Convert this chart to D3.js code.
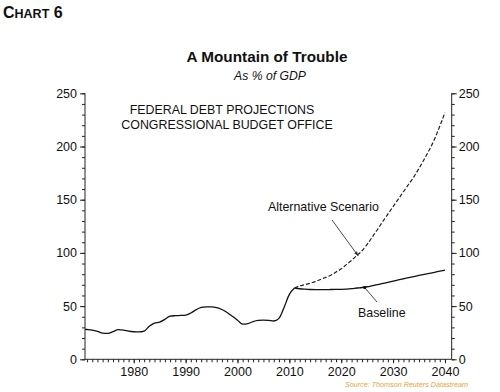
<!DOCTYPE html>
<html><head><meta charset="utf-8">
<script src="https://cdn.jsdelivr.net/npm/d3@7"></script>
<style>
body{margin:0;background:#fff;}
text{font-family:"Liberation Sans",Arial,sans-serif;fill:#111;}
</style></head>
<body><svg id="c" width="500" height="392"></svg>
<script>
const histYears = [1970,1971,1972,1973,1974,1975,1976,1977,1978,1979,1980,1981,1982,1983,1984,1985,1986,1987,1988,1989,1990,1991,1992,1993,1994,1995,1996,1997,1998,1999,2000,2001,2002,2003,2004,2005,2006,2007,2008,2009,2010,2011];
const histValues = [28.3,28,27.5,26.3,24.6,24.3,26,27.8,27.5,26.5,25.9,25.7,26.5,31,34,35,37.5,40.5,41,41.2,41.5,43.5,46.5,48.8,49.3,49.3,48.6,46.8,44,40.5,36.8,33,33.5,35.5,36.6,36.8,36.6,36,38.5,49,61,67];
const projYears = [2011,2012,2013,2014,2015,2016,2017,2018,2019,2020,2021,2022,2023,2024,2025,2026,2027,2028,2029,2030,2031,2032,2033,2034,2035,2036,2037,2038,2039,2040];
const baselineValues = [67,66.3,65.9,65.6,65.5,65.5,65.5,65.6,65.7,65.8,66,66.4,67,67.5,68.2,69.2,70.2,71.3,72.4,73.5,74.6,75.7,76.8,77.8,78.8,79.8,80.8,81.8,82.8,83.8];
const alternativeValues = [67,69,70.2,71.5,73,75,77,79,82,85,89,93,97.5,102,108,115,122,129.5,136.5,143.5,150.5,157.5,164.5,171.5,179.5,188,197,207,219,232];
const yTicks = [0,50,100,150,200,250];
const xTicks = [1980,1990,2000,2010,2020,2030,2040];

const svg = d3.select("#c");
const L = 85, R = 451.7, T = 93.3, B = 359.3;
const x = d3.scaleLinear().domain([1970.6, 2041.3]).range([L, R]);
const y = d3.scaleLinear().domain([0, 250]).range([B, T]);

svg.append("defs").append("clipPath").attr("id","clip").append("rect")
  .attr("x",L).attr("y",T-10).attr("width",R-L).attr("height",B-T+10);

function styleAxis(g){ g.selectAll("path,line").attr("stroke","#222").attr("stroke-width",1); g.selectAll("text").attr("font-size",12.5).attr("fill","#111").style("font-family","Liberation Sans, Arial, sans-serif"); g.select(".domain").remove(); }
const minorY = d3.range(0,251,10);
const gl = svg.append("g").attr("transform",`translate(${L},0)`);
gl.call(d3.axisLeft(y).tickValues(minorY).tickSize(3).tickFormat("")).call(styleAxis);
gl.append("g").call(d3.axisLeft(y).tickValues(yTicks).tickSize(5).tickPadding(3)).call(styleAxis);
gl.append("line").attr("x1",0).attr("x2",0).attr("y1",T).attr("y2",B).attr("stroke","#222");

const gr = svg.append("g").attr("transform",`translate(${R},0)`);
gr.call(d3.axisRight(y).tickValues(minorY).tickSize(3).tickFormat("")).call(styleAxis);
gr.append("g").call(d3.axisRight(y).tickValues(yTicks).tickSize(5).tickPadding(2)).call(styleAxis);
gr.append("line").attr("x1",0).attr("x2",0).attr("y1",T).attr("y2",B).attr("stroke","#222");

const gb = svg.append("g").attr("transform",`translate(0,${B})`);
gb.call(d3.axisBottom(x).tickValues(d3.range(1971,2041,1)).tickSize(3).tickFormat("")).call(styleAxis);
gb.append("g").call(d3.axisBottom(x).tickValues(xTicks).tickSize(4).tickPadding(4).tickFormat(d3.format("d"))).call(styleAxis);
gb.append("line").attr("x1",L).attr("x2",R).attr("y1",0).attr("y2",0).attr("stroke","#222");

const line = d3.line().x(d=>x(d[0])).y(d=>y(d[1])).curve(d3.curveMonotoneX);
const plot = svg.append("g").attr("clip-path","url(#clip)");
plot.append("path").datum(projYears.map((d,i)=>[d,alternativeValues[i]])).attr("d",line)
  .attr("fill","none").attr("stroke","#222").attr("stroke-width",1.2).attr("stroke-dasharray","4,2");
plot.append("path").datum(histYears.map((d,i)=>[d,histValues[i]])).attr("d",line)
  .attr("fill","none").attr("stroke","#111").attr("stroke-width",1.3);
plot.append("path").datum(projYears.map((d,i)=>[d,baselineValues[i]])).attr("d",line)
  .attr("fill","none").attr("stroke","#111").attr("stroke-width",1.3);

const altTip = [x(2023.3), y(97)];
svg.append("line").attr("x1",332).attr("y1",220).attr("x2",altTip[0]).attr("y2",altTip[1])
  .attr("stroke","#333").attr("stroke-width",0.9);
const ang = Math.atan2(altTip[1]-220, altTip[0]-332);
const ah = 5;
svg.append("path").attr("d",`M${altTip[0]},${altTip[1]} L${altTip[0]-ah*Math.cos(ang-0.35)},${altTip[1]-ah*Math.sin(ang-0.35)} L${altTip[0]-ah*Math.cos(ang+0.35)},${altTip[1]-ah*Math.sin(ang+0.35)} Z`).attr("fill","#333");
svg.append("text").attr("x",268).attr("y",211).attr("font-size",12.4).text("Alternative Scenario");

const baseTip = [x(2024.5), y(67.5)];
svg.append("line").attr("x1",377).attr("y1",302).attr("x2",baseTip[0]).attr("y2",baseTip[1])
  .attr("stroke","#333").attr("stroke-width",0.9);
svg.append("circle").attr("cx",baseTip[0]).attr("cy",baseTip[1]).attr("r",1.6).attr("fill","#111");
svg.append("text").attr("x",358).attr("y",317).attr("font-size",12.4).text("Baseline");

svg.append("text").attr("x",3).attr("y",18).attr("font-weight","bold").attr("font-size",16)
  .text("C").append("tspan").attr("font-size",12.5).text("HART").append("tspan").attr("font-size",16).text(" 6");
svg.append("text").attr("x",267).attr("y",62).attr("text-anchor","middle").attr("font-weight","bold").attr("font-size",15.3).text("A Mountain of Trouble");
svg.append("text").attr("x",270).attr("y",80).attr("text-anchor","middle").attr("font-style","italic").attr("font-size",12.2).text("As % of GDP");
svg.append("text").attr("x",222).attr("y",113.5).attr("text-anchor","middle").attr("font-size",12.4).text("FEDERAL DEBT PROJECTIONS");
svg.append("text").attr("x",227).attr("y",128.5).attr("text-anchor","middle").attr("font-size",12.4).text("CONGRESSIONAL BUDGET OFFICE");
svg.append("text").attr("x",468).attr("y",387).attr("text-anchor","end").attr("font-style","italic").attr("font-size",7.2)
  .style("fill","#e8a33a").text("Source: Thomson Reuters Datastream");
</script></body></html>
